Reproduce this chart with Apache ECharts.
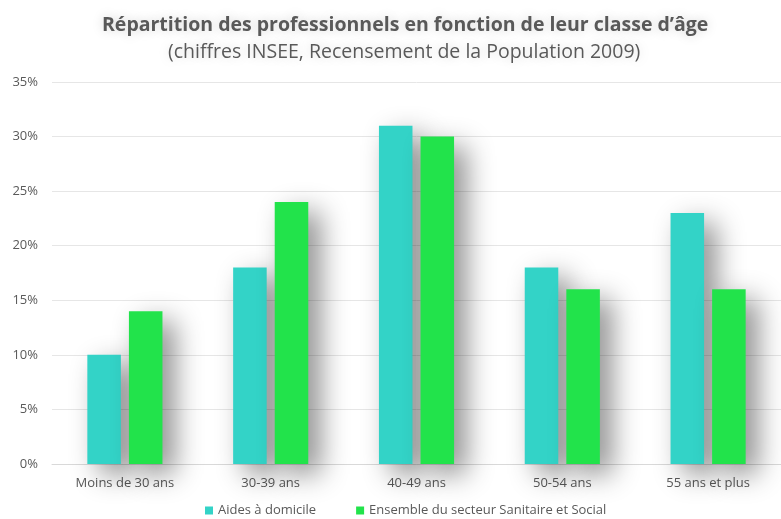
<!DOCTYPE html>
<html>
<head>
<meta charset="utf-8">
<script src="https://cdn.jsdelivr.net/npm/echarts@6/dist/echarts.min.js"></script>
<style>
  html, body { margin: 0; padding: 0; background: #fff; }
  #chart { width: 781px; height: 519px; }
</style>
</head>
<body>
<div id="chart"></div>
<script>
// catégories d'âge
const categories = ['Moins de 30 ans', '30-39 ans', '40-49 ans', '50-54 ans', '55 ans et plus'];
const seriesNames = ['Aides à domicile', 'Ensemble du secteur Sanitaire et Social'];
// valeurs en %
const aidesDomicile = [10, 18, 31, 18, 23];
const ensembleSecteur = [14, 24, 30, 16, 16];
const colors = ['#33D3C7', '#22E34B'];

const font = 'Open Sans, Liberation Sans, sans-serif';

const barShadow = {
  shadowColor: 'rgba(0,0,0,0.45)',
  shadowBlur: 28,
  shadowOffsetX: 12,
  shadowOffsetY: 10
};

const titleShadow = { textShadowColor: 'rgba(0,0,0,0.18)', textShadowBlur: 12 };

const option = {
  backgroundColor: '#ffffff',
  animation: false,
  title: [
    {
      text: 'Répartition des professionnels en fonction de leur classe d’âge',
      left: 97,
      top: 10,
      textStyle: Object.assign({ fontFamily: font, fontSize: 19.5, fontWeight: 'bold', color: '#595959' }, titleShadow)
    },
    {
      text: '(chiffres INSEE, Recensement de la Population 2009)',
      left: 163,
      top: 37,
      textStyle: Object.assign({ fontFamily: font, fontSize: 19.5, fontWeight: 'normal', color: '#595959' }, titleShadow)
    }
  ],
  legend: {
    data: seriesNames,
    bottom: -3,
    left: 200,
    itemWidth: 8,
    itemHeight: 8,
    itemGap: 40,
    icon: 'rect',
    textStyle: { fontFamily: font, fontSize: 13, color: '#595959' }
  },
  grid: { left: 52, right: 0, top: 82, bottom: 55 },
  xAxis: {
    type: 'category',
    data: categories,
    axisLine: { lineStyle: { color: '#d9d9d9' } },
    axisTick: { show: false },
    axisLabel: { fontFamily: font, fontSize: 13, color: '#595959', margin: 13 }
  },
  yAxis: {
    type: 'value',
    min: 0,
    max: 35,
    interval: 5,
    axisLabel: { formatter: '{value}%', fontFamily: font, fontSize: 13, color: '#595959', margin: 14 },
    splitLine: { lineStyle: { color: '#e6e6e6' } },
    axisLine: { show: false },
    axisTick: { show: false }
  },
  series: [
    {
      name: seriesNames[0],
      type: 'bar',
      data: aidesDomicile,
      barWidth: '23%',
      barGap: '24%',
      itemStyle: Object.assign({ color: colors[0] }, barShadow)
    },
    {
      name: seriesNames[1],
      type: 'bar',
      data: ensembleSecteur,
      barWidth: '23%',
      itemStyle: Object.assign({ color: colors[1] }, barShadow)
    }
  ]
};

const chart = echarts.init(document.getElementById('chart'));
chart.setOption(option);
</script>
</body>
</html>
